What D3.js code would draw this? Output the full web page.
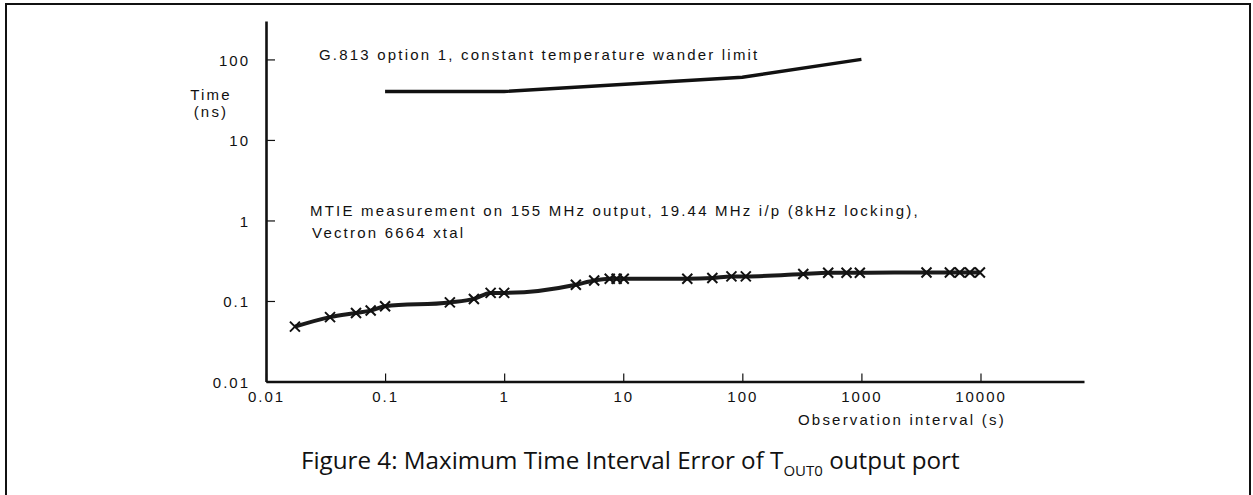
<!DOCTYPE html>
<html>
<head>
<meta charset="utf-8">
<script src="https://cdn.jsdelivr.net/npm/d3@7"></script>
<style>
  html, body { margin: 0; padding: 0; background: #fff; }
  svg { display: block; }
  .lbl { font-family: "Liberation Sans", Arial, sans-serif; font-size: 15px; letter-spacing: 2.2px; fill: #111; }
  .axis text { font-family: "Liberation Sans", Arial, sans-serif; font-size: 15px; letter-spacing: 2px; fill: #111; }
  .cap { font-family: "Open Sans", sans-serif; fill: #111; }
</style>
</head>
<body>
<svg id="chart" width="1253" height="495"></svg>
<script>
// ---- data ----
const xTickValues = [0.01, 0.1, 1, 10, 100, 1000, 10000];
const xTickLabels = ["0.01", "0.1", "1", "10", "100", "1000", "10000"];
const yTickValues = [0.01, 0.1, 1, 10, 100];
const yTickLabels = ["0.01", "0.1", "1", "10", "100"];
const xDomain = [0.01, 74000];
const yDomain = [0.01, 300];

// G.813 option 1 constant temperature wander limit
const limitTau  = [0.1, 1, 100, 1000];
const limitMtie = [40, 40, 60, 100];

// measured MTIE (ns) vs observation interval (s)
const measTau  = [0.0175, 0.0345, 0.057, 0.0757, 0.1, 0.35, 0.557, 0.77, 1.0, 4.0, 5.7, 7.7, 8.8, 10.1,
                  34.5, 56, 81, 107, 325, 526, 750, 970, 3520, 5530, 6700, 8150, 9890];
const measMtie = [0.048, 0.063, 0.071, 0.076, 0.086, 0.096, 0.106, 0.126, 0.126, 0.159, 0.18, 0.189, 0.189, 0.189,
                  0.189, 0.193, 0.202, 0.202, 0.216, 0.224, 0.224, 0.224, 0.226, 0.226, 0.226, 0.226, 0.226];

const limitLabel = "G.813 option 1, constant temperature wander limit";
const measLabel1 = "MTIE measurement on 155 MHz output, 19.44 MHz i/p (8kHz locking),";
const measLabel2 = "Vectron 6664 xtal";
const yTitle = ["Time", "(ns)"];
const xTitle = "Observation interval (s)";
const captionParts = ["Figure 4: Maximum Time Interval Error of T", "OUT0", " output port"];

// ---- drawing ----
const svg = d3.select("#chart");
svg.append("rect").attr("x", 6).attr("y", 4).attr("width", 1244).attr("height", 520)
  .attr("fill", "none").attr("stroke", "#111").attr("stroke-width", 2);

const x = d3.scaleLog().domain(xDomain).range([266, 1084]);
const y = d3.scaleLog().domain(yDomain).range([381.5, 21]);

const xAxis = d3.axisBottom(x).tickValues(xTickValues)
  .tickFormat((d, i) => xTickLabels[i]).tickSize(-8).tickSizeOuter(0).tickPadding(10);
const yAxis = d3.axisLeft(y).tickValues(yTickValues)
  .tickFormat((d, i) => yTickLabels[i]).tickSize(-9).tickSizeOuter(0).tickPadding(16);

const gx = svg.append("g").attr("class", "axis").attr("transform", `translate(0,${y(yDomain[0])})`).call(xAxis);
const gy = svg.append("g").attr("class", "axis").attr("transform", `translate(${x(xDomain[0])},0)`).call(yAxis);
[gx, gy].forEach(g => {
  g.select(".domain").attr("stroke", "#111").attr("stroke-width", 2.6);
  g.selectAll(".tick line").attr("stroke", "#111").attr("stroke-width", 1.2);
});
gy.selectAll(".tick text").attr("dy", "0.4em");

// limit line
const lineLimit = d3.line().x(d => x(d[0])).y(d => y(d[1]));
svg.append("path").datum(limitTau.map((t, i) => [t, limitMtie[i]]))
  .attr("d", lineLimit).attr("fill", "none").attr("stroke", "#111").attr("stroke-width", 3.4);

// measurement curve
const meas = measTau.map((t, i) => [t, measMtie[i]]);
const lineMeas = d3.line().x(d => x(d[0])).y(d => y(d[1])).curve(d3.curveMonotoneX);
svg.append("path").datum(meas).attr("d", lineMeas).attr("fill", "none")
  .attr("stroke", "#1a1a1a").attr("stroke-width", 4);
const s = 5;
svg.append("g").selectAll("path").data(meas).join("path")
  .attr("d", d => { const cx = x(d[0]), cy = y(d[1]);
    return `M${cx - s},${cy - s}L${cx + s},${cy + s}M${cx - s},${cy + s}L${cx + s},${cy - s}`; })
  .attr("stroke", "#111").attr("stroke-width", 2).attr("fill", "none");

// labels
svg.append("text").attr("class", "lbl").attr("x", 319).attr("y", 60).text(limitLabel);
svg.append("text").attr("class", "lbl").attr("x", 310).attr("y", 216).text(measLabel1);
svg.append("text").attr("class", "lbl").attr("x", 312).attr("y", 238).text(measLabel2);
svg.append("text").attr("class", "lbl").attr("x", 211).attr("y", 100).attr("text-anchor", "middle").text(yTitle[0]);
svg.append("text").attr("class", "lbl").attr("x", 211).attr("y", 117).attr("text-anchor", "middle").text(yTitle[1]);
svg.append("text").attr("class", "lbl").attr("x", 798).attr("y", 425).text(xTitle);

// caption (fit to the reference width)
const capTarget = 659;
let capSize = 21, subSize = 13;
const cap = svg.append("text").attr("class", "cap").attr("x", 301).attr("y", 469);
const t1 = cap.append("tspan").text(captionParts[0]);
const t2 = cap.append("tspan").attr("dy", 7).text(captionParts[1]);
const t3 = cap.append("tspan").attr("dy", -7).text(captionParts[2]);
function setCap(k) {
  cap.attr("font-size", capSize * k);
  t2.attr("font-size", subSize * k);
}
setCap(1);
const w0 = cap.node().getComputedTextLength();
setCap(capTarget / w0);
</script>
</body>
</html>
